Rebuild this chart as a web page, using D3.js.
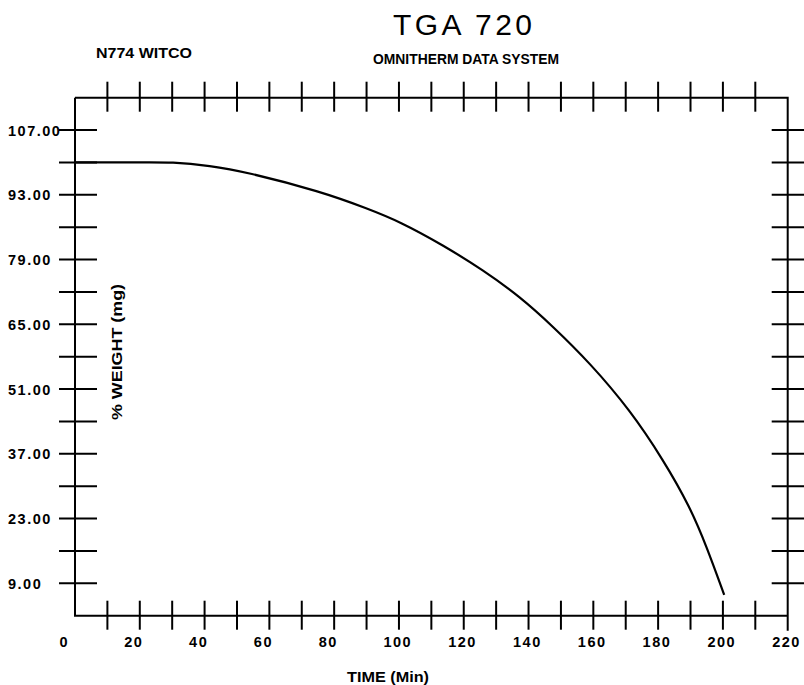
<!DOCTYPE html>
<html>
<head>
<meta charset="utf-8">
<script src="https://cdn.jsdelivr.net/npm/d3@7"></script>
<style>
  body { margin: 0; background: #fff; }
  text { font-family: "Liberation Sans", Arial, sans-serif; fill: #000; }
</style>
</head>
<body>
<div id="chart"></div>
<script>
// values
var timeMin = [0, 20, 30, 41.7, 52.5, 76, 90.4, 100.3, 113.7, 126, 137.3, 147.6, 159, 171.3, 181.6, 189.8, 195, 200.4];
var weightPct = [100, 100, 100.1, 99.3, 98.0, 93.7, 90.0, 87.2, 82.1, 76.7, 71.0, 64.5, 56.6, 46.5, 35.7, 25.6, 16.9, 6.5];

var xTicks = [10, 20, 30, 40, 50, 60, 70, 80, 90, 100, 110, 120, 130, 140, 150, 160, 170, 180, 190, 200, 210];
var xLabels = [0, 20, 40, 60, 80, 100, 120, 140, 160, 180, 200, 220];
var yTicks = [9, 16, 23, 30, 37, 44, 51, 58, 65, 72, 79, 86, 93, 100, 107];
var yLabels = [9, 23, 37, 51, 65, 79, 93, 107];

function buildchart(){
    var width = 804, height = 685;
    var pLeft = 75, pRight = 787.7, pTop = 97.7, pBottom = 615.7;

    var x = d3.scaleLinear().domain([0, 220]).range([pLeft, pRight]);
    var y = d3.scaleLinear().domain([2, 114]).range([pBottom, pTop]);

    var svg = d3.select("#chart")
        .append("svg")
        .attr("width", width)
        .attr("height", height);

    // frame
    svg.append("path")
        .attr("d", "M" + pLeft + "," + pTop + "H" + pRight + "V" + (pBottom + 15) + "M" + pRight + "," + pBottom + "H" + pLeft + "V" + pTop)
        .attr("fill", "none")
        .attr("stroke", "#000")
        .attr("stroke-width", 2);

    var ticks = svg.append("g").attr("stroke", "#000").attr("stroke-width", 2);

    ticks.selectAll(".xt-top")
        .data(xTicks)
        .enter()
        .append("line")
        .attr("x1", function(d){ return x(d); })
        .attr("x2", function(d){ return x(d); })
        .attr("y1", pTop - 16)
        .attr("y2", pTop + 14);

    ticks.selectAll(".xt-bot")
        .data(xTicks)
        .enter()
        .append("line")
        .attr("x1", function(d){ return x(d); })
        .attr("x2", function(d){ return x(d); })
        .attr("y1", pBottom - 15)
        .attr("y2", pBottom + 14);

    ticks.selectAll(".yt-left")
        .data(yTicks)
        .enter()
        .append("line")
        .attr("y1", function(d){ return y(d); })
        .attr("y2", function(d){ return y(d); })
        .attr("x1", pLeft - 16)
        .attr("x2", pLeft + 22);

    ticks.selectAll(".yt-right")
        .data(yTicks)
        .enter()
        .append("line")
        .attr("y1", function(d){ return y(d); })
        .attr("y2", function(d){ return y(d); })
        .attr("x1", pRight - 16)
        .attr("x2", width);

    // tick labels
    svg.selectAll(".ylab")
        .data(yLabels)
        .enter()
        .append("text")
        .attr("x", 8)
        .attr("y", function(d){ return y(d) + 5.5; })
        .attr("font-size", 14.5)
        .attr("font-weight", "bold")
        .attr("letter-spacing", 1.5)
        .text(function(d){ return d.toFixed(2); });

    svg.selectAll(".xlab")
        .data(xLabels)
        .enter()
        .append("text")
        .attr("x", function(d){ return x(d) - 15.5; })
        .attr("y", 647)
        .attr("font-size", 14.5)
        .attr("font-weight", "bold")
        .attr("letter-spacing", 1.5)
        .text(function(d){ return d; });

    // curve
    var line = d3.line()
        .x(function(d){ return x(d[0]); })
        .y(function(d){ return y(d[1]); })
        .curve(d3.curveBasis);

    svg.append("path")
        .datum(d3.zip(timeMin, weightPct))
        .attr("d", line)
        .attr("fill", "none")
        .attr("stroke", "#000")
        .attr("stroke-width", 2.2);

    // titles
    svg.append("text")
        .attr("x", 393)
        .attr("y", 35)
        .attr("font-size", 30)
        .attr("textLength", 139)
        .attr("lengthAdjust", "spacing")
        .text("TGA 720");

    svg.append("text")
        .attr("x", 373)
        .attr("y", 64)
        .attr("font-size", 14)
        .attr("font-weight", "bold")
        .attr("textLength", 186)
        .attr("lengthAdjust", "spacingAndGlyphs")
        .text("OMNITHERM DATA SYSTEM");

    svg.append("text")
        .attr("x", 96)
        .attr("y", 57.5)
        .attr("font-size", 14)
        .attr("font-weight", "bold")
        .attr("textLength", 96)
        .attr("lengthAdjust", "spacingAndGlyphs")
        .text("N774 WITCO");

    svg.append("text")
        .attr("transform", "translate(122,420) rotate(-90)")
        .attr("font-size", 14)
        .attr("font-weight", "bold")
        .attr("textLength", 136)
        .attr("lengthAdjust", "spacingAndGlyphs")
        .text("% WEIGHT  (mg)");

    svg.append("text")
        .attr("x", 347)
        .attr("y", 682)
        .attr("font-size", 14)
        .attr("font-weight", "bold")
        .attr("textLength", 82)
        .attr("lengthAdjust", "spacingAndGlyphs")
        .text("TIME  (Min)");
}

buildchart();
</script>
</body>
</html>
